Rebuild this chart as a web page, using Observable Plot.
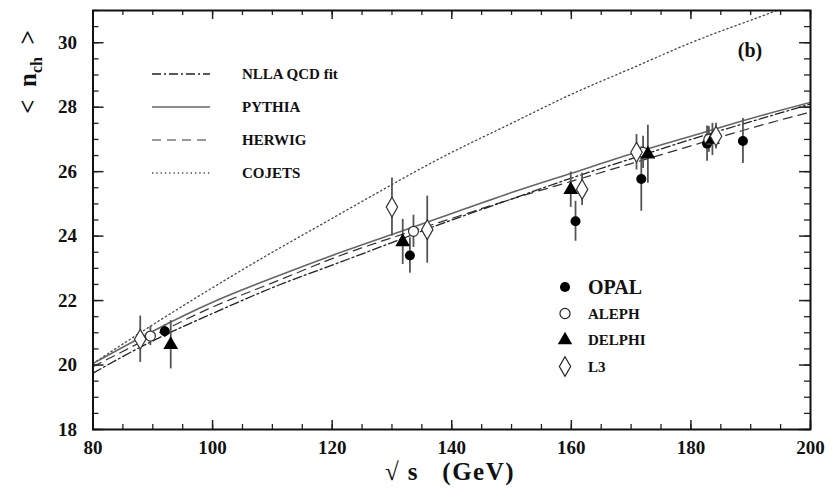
<!DOCTYPE html>
<html>
<head>
<meta charset="utf-8">
<script src="https://cdn.jsdelivr.net/npm/d3@7"></script>
<script src="https://cdn.jsdelivr.net/npm/@observablehq/plot@0.6"></script>
<style>
  html, body { margin: 0; padding: 0; background: #fff; }
  #chart { width: 838px; height: 491px; }
</style>
</head>
<body>
<div id="chart"></div>
<script>
// ---- Data ----
// Model curves: sqrt(s) [GeV] and <n_ch>
const curveE = [80, 90, 100, 110, 120, 130, 140, 150, 160, 170, 180, 190, 200];
const nllaN   = [19.75, 20.75, 21.6, 22.4, 23.1, 23.8, 24.5, 25.15, 25.8, 26.4, 27.0, 27.55, 28.1];
const pythiaN = [20.05, 21.05, 21.95, 22.7, 23.4, 24.05, 24.7, 25.35, 25.95, 26.55, 27.1, 27.65, 28.15];
const herwigN = [19.95, 20.9, 21.8, 22.55, 23.3, 23.95, 24.55, 25.15, 25.7, 26.25, 26.8, 27.35, 27.85];
const cojetsN = [20.05, 21.25, 22.4, 23.5, 24.55, 25.6, 26.6, 27.5, 28.4, 29.2, 30.0, 30.7, 31.4];

// Measurements: energy, mean multiplicity, error
const opalE = [92.0, 133.0, 160.7, 171.7, 182.7, 188.7];
const opalN = [21.05, 23.4, 24.46, 25.77, 26.87, 26.95];
const opalErr = [0.2, 0.55, 0.62, 1.0, 0.55, 0.7];

const alephE = [89.6, 133.6, 172.0, 183.0];
const alephN = [20.9, 24.15, 26.6, 27.0];
const alephErr = [0.3, 0.5, 0.5, 0.4];

const delphiE = [93.0, 131.8, 159.9, 172.8, 183.6];
const delphiN = [20.63, 23.82, 25.44, 26.54, 27.0];
const delphiErr = [0.75, 0.7, 0.55, 0.9, 0.5];

const l3E = [87.9, 130.0, 135.9, 161.8, 170.9, 184.2];
const l3N = [20.8, 24.9, 24.2, 25.45, 26.6, 27.1];
const l3Err = [0.72, 0.9, 1.04, 0.5, 0.55, 0.4];

// Axis ticks
const xMajor = [80, 100, 120, 140, 160, 180, 200];
const xMinor = d3.range(80, 201, 5);
const yMajor = [18, 20, 22, 24, 26, 28, 30];
const yMinor = d3.range(18, 31.01, 0.5);

// Legend labels
const lineLegend = ["NLLA QCD fit", "PYTHIA", "HERWIG", "COJETS"];
const pointLegend = ["OPAL", "ALEPH", "DELPHI", "L3"];

// ---- Build tables ----
const curve = (n) => curveE.map((e, i) => ({e, n: n[i]}));
const pts = (E, N, Err, exp) => E.map((e, i) => ({e, n: N[i], err: Err[i], exp}));
const opal = pts(opalE, opalN, opalErr, "OPAL");
const aleph = pts(alephE, alephN, alephErr, "ALEPH");
const delphi = pts(delphiE, delphiN, delphiErr, "DELPHI");
const l3 = pts(l3E, l3N, l3Err, "L3");
const allPts = [...opal, ...aleph, ...delphi, ...l3];

const W = 838, H = 491;
const mL = 92.5, mR = 28, mT = 10, mB = 62;
const innerH = H - mT - mB, innerW = W - mL - mR;
const font = "'Liberation Serif', 'Times New Roman', serif";
const errColor = "#555";

const dashNLLA = "9,3,2,3";
const dashHERWIG = "9,6";
const dashCOJETS = "1.3,3";

const chart = Plot.plot({
  width: W, height: H,
  marginLeft: mL, marginRight: mR, marginTop: mT, marginBottom: mB,
  style: {fontFamily: font, background: "#fff"},
  x: {domain: [80, 200]},
  y: {domain: [18, 31]},
  marks: [
    // tick labels
    Plot.axisX(xMajor, {tickSize: 0, tickPadding: 11, fontSize: 19, fontWeight: "bold", label: null, fill: "#111"}),
    Plot.axisY(yMajor, {tickSize: 0, tickPadding: 16, fontSize: 19, fontWeight: "bold", label: null, fill: "#111"}),
    // inward ticks, all four sides
    Plot.tickX(xMajor, {x: d => d, insetTop: innerH - 9, stroke: "#222", strokeWidth: 1.5}),
    Plot.tickX(xMinor, {x: d => d, insetTop: innerH - 5, stroke: "#222", strokeWidth: 1.3}),
    Plot.tickX(xMajor, {x: d => d, insetBottom: innerH - 9, stroke: "#222", strokeWidth: 1.5}),
    Plot.tickX(xMinor, {x: d => d, insetBottom: innerH - 5, stroke: "#222", strokeWidth: 1.3}),
    Plot.tickY(yMajor, {y: d => d, insetRight: innerW - 11, stroke: "#222", strokeWidth: 1.5}),
    Plot.tickY(yMinor, {y: d => d, insetRight: innerW - 6, stroke: "#222", strokeWidth: 1.3}),
    Plot.tickY(yMajor, {y: d => d, insetLeft: innerW - 11, stroke: "#222", strokeWidth: 1.5}),
    Plot.tickY(yMinor, {y: d => d, insetLeft: innerW - 6, stroke: "#222", strokeWidth: 1.3}),
    // model curves
    Plot.line(curve(cojetsN), {x: "e", y: "n", curve: "natural", stroke: "#444", strokeWidth: 1.3, strokeDasharray: dashCOJETS, clip: true}),
    Plot.line(curve(herwigN), {x: "e", y: "n", curve: "natural", stroke: "#333", strokeWidth: 1.2, strokeDasharray: dashHERWIG, clip: true}),
    Plot.line(curve(pythiaN), {x: "e", y: "n", curve: "natural", stroke: "#666", strokeWidth: 1.6, clip: true}),
    Plot.line(curve(nllaN), {x: "e", y: "n", curve: "natural", stroke: "#222", strokeWidth: 1.3, strokeDasharray: dashNLLA, clip: true}),
    // error bars
    Plot.ruleX(allPts, {x: "e", y1: d => d.n - d.err, y2: d => d.n + d.err, stroke: errColor, strokeWidth: 1.8}),
    // markers
    Plot.dot(opal, {x: "e", y: "n", symbol: "circle", r: 5, fill: "#000"}),
    Plot.dot(aleph, {x: "e", y: "n", symbol: "circle", r: 5, fill: "#fff", stroke: "#333", strokeWidth: 1.2}),
    Plot.dot(delphi, {x: "e", y: "n", symbol: "triangle", r: 5.5, fill: "#000"}),
    Plot.dot(l3, {x: "e", y: "n", symbol: "diamond", r: 6, fill: "#fff", stroke: "#333", strokeWidth: 1.2}),
    Plot.frame({stroke: "#111", strokeWidth: 2})
  ]
});

document.getElementById("chart").appendChild(chart);

// ---- Annotations: legends and axis titles ----
const svg = d3.select(chart);

// line legend (top-left)
const lineStyles = [
  {dash: dashNLLA, stroke: "#222", w: 1.3},
  {dash: null, stroke: "#666", w: 1.6},
  {dash: dashHERWIG, stroke: "#333", w: 1.2},
  {dash: dashCOJETS, stroke: "#444", w: 1.3}
];
const lg = svg.append("g").attr("font-family", font).attr("font-weight", "bold").attr("text-anchor", "start");
lineLegend.forEach((label, i) => {
  const cy = 74 + i * 33;
  const s = lineStyles[i];
  lg.append("line").attr("x1", 152).attr("x2", 210).attr("y1", cy).attr("y2", cy)
    .attr("stroke", s.stroke).attr("stroke-width", s.w)
    .attr("stroke-dasharray", s.dash);
  lg.append("text").attr("x", 242).attr("y", cy).attr("dy", "0.35em")
    .attr("font-size", 15).attr("fill", "#111").text(label);
});

// point legend (bottom-right)
const symTypes = [d3.symbolCircle, d3.symbolCircle, d3.symbolTriangle, d3.symbolDiamond];
const symFill = ["#000", "#fff", "#000", "#fff"];
const symSize = [80, 80, 90, 110];
const pg = svg.append("g").attr("font-family", font).attr("font-weight", "bold").attr("text-anchor", "start");
pointLegend.forEach((label, i) => {
  const cy = 287 + i * 26.5;
  pg.append("path").attr("d", d3.symbol(symTypes[i], symSize[i])())
    .attr("transform", `translate(565,${cy})`)
    .attr("fill", symFill[i]).attr("stroke", "#222").attr("stroke-width", i % 2 ? 1.2 : 0);
  pg.append("text").attr("x", 588).attr("y", cy).attr("dy", "0.35em")
    .attr("font-size", i === 0 ? 20 : 15).attr("fill", "#111").text(label);
});

// panel tag
svg.append("text").attr("x", 750).attr("y", 50).attr("dy", "0.35em")
  .attr("text-anchor", "middle").attr("font-family", font).attr("font-weight", "bold")
  .attr("font-size", 20).attr("fill", "#111").text("(b)");

// x title
svg.append("text").attr("x", 450).attr("y", 471).attr("dy", "0.35em")
  .attr("text-anchor", "middle").attr("font-family", font).attr("font-weight", "bold")
  .attr("font-size", 25).attr("letter-spacing", 1.5).attr("fill", "#111")
  .style("white-space", "pre").text("√ s   (GeV)");

// y title
const yt = svg.append("text").attr("transform", "translate(27,72) rotate(-90)")
  .attr("text-anchor", "middle").attr("dy", "0.35em")
  .attr("font-family", font).attr("font-weight", "bold").attr("font-size", 25).attr("fill", "#111")
  .style("white-space", "pre");
yt.append("tspan").text("<  n");
yt.append("tspan").attr("font-size", 16).attr("dy", "6").text("ch");
yt.append("tspan").attr("dy", "-6").text("  >");
</script>
</body>
</html>
